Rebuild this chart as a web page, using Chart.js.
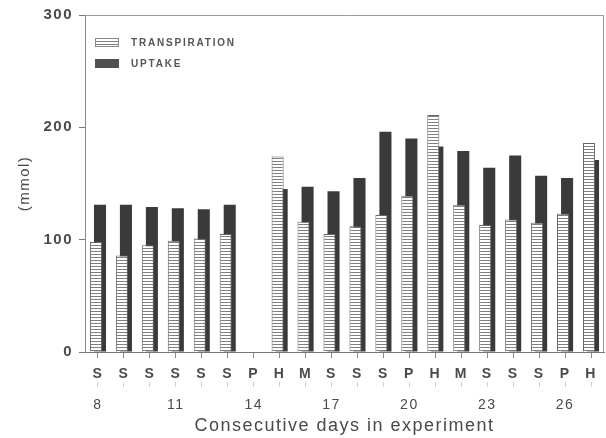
<!DOCTYPE html>
<html>
<head>
<meta charset="utf-8">
<script src="https://cdn.jsdelivr.net/npm/chart.js@4"></script>
<style>
  html, body { margin: 0; padding: 0; background: #fff; }
  #wrap { width: 606px; height: 438px; }
</style>
</head>
<body>
<div id="wrap"><canvas id="waterChart" width="606" height="438"></canvas></div>
<script>
// values
const dayTypes = ["S", "S", "S", "S", "S", "S", "P", "H", "M", "S", "S", "S", "P", "H", "M", "S", "S", "S", "P", "H"];
const dayLabels = ["8", "", "", "11", "", "", "14", "", "", "17", "", "", "20", "", "", "23", "", "", "26", ""];
const transpiration = [98, 86, 95, 99, 101, 105, null, 174, 116, 105, 112, 122, 139, 211, 131, 113, 118, 115, 123, 186];
const uptake = [131, 131, 129, 128, 127, 131, null, 145, 147, 143, 155, 196, 190, 183, 179, 164, 175, 157, 155, 171];
const yTicks = [0, 100, 200, 300];

const FONT = "'Liberation Sans', Arial, sans-serif";
const TEXT = "#4a4a4a";

// horizontal hatching for transpiration
function hatch() {
  const c = document.createElement("canvas");
  c.width = 4; c.height = 3;
  const g = c.getContext("2d");
  g.fillStyle = "#fff";
  g.fillRect(0, 0, 4, 3);
  g.fillStyle = "#808080";
  g.fillRect(0, 2, 4, 1);
  return g.createPattern(c, "repeat");
}

const ctx = document.getElementById("waterChart").getContext("2d");
const hatchFill = hatch();

const frameAndLegend = {
  id: "frameAndLegend",
  beforeDraw(chart) {
    chart.ctx.letterSpacing = "1.5px";
  },
  afterDraw(chart) {
    const { ctx, chartArea: a } = chart;
    ctx.save();
    // top and right frame
    ctx.strokeStyle = "#9a9a9a";
    ctx.lineWidth = 1;
    ctx.beginPath();
    ctx.moveTo(a.left, a.top + 0.5);
    ctx.lineTo(a.right - 0.5, a.top + 0.5);
    ctx.lineTo(a.right - 0.5, a.bottom);
    ctx.stroke();

    // legend
    const bx = a.left + 10, bw = 24, bh = 9;
    const rows = [
      { label: "TRANSPIRATION", fill: hatchFill, y: 38 },
      { label: "UPTAKE", fill: "#505050", y: 59 }
    ];
    ctx.letterSpacing = "1.8px";
    ctx.font = "bold 10px " + FONT;
    ctx.textBaseline = "middle";
    ctx.textAlign = "left";
    rows.forEach(r => {
      ctx.fillStyle = r.fill;
      ctx.fillRect(bx, r.y, bw, bh);
      if (r.fill === hatchFill) {
        ctx.strokeStyle = "#888";
        ctx.strokeRect(bx + 0.5, r.y + 0.5, bw - 1, bh - 1);
      }
      ctx.fillStyle = "#555";
      ctx.fillText(r.label, bx + 36, r.y + bh / 2 + 0.5);
    });
    ctx.restore();
  }
};

new Chart(ctx, {
  type: "bar",
  data: {
    labels: dayTypes,
    datasets: [
      {
        label: "TRANSPIRATION",
        data: transpiration,
        backgroundColor: hatchFill,
        borderColor: "#666",
        borderWidth: 1,
        borderSkipped: "bottom",
        categoryPercentage: 0.31,
        barPercentage: 3
      },
      {
        label: "UPTAKE",
        data: uptake,
        backgroundColor: "#3a3a3a",
        borderWidth: 0,
        categoryPercentage: 0.31,
        barPercentage: 3
      }
    ]
  },
  options: {
    responsive: false,
    animation: false,
    layout: { padding: { top: 12, right: 2, bottom: 0, left: 0 } },
    plugins: {
      legend: { display: false },
      tooltip: { enabled: false }
    },
    scales: {
      x: {
        position: "bottom",
        offset: true,
        grid: { offset: false, drawOnChartArea: false, tickLength: 6, color: "#888" },
        border: { color: "#777" },
        ticks: {
          autoSkip: false, maxRotation: 0, padding: 8,
          color: TEXT, font: { family: FONT, size: 14, weight: "bold" }
        },
        afterFit(s) { s.height = 30; }
      },
      x2: {
        type: "category",
        position: "bottom",
        labels: dayLabels,
        offset: true,
        grid: { offset: false, drawOnChartArea: false, tickLength: 5, color: "#d0d0d0" },
        border: { display: false },
        ticks: {
          autoSkip: false, maxRotation: 0, padding: 10,
          color: TEXT, font: { family: FONT, size: 14 }
        },
        title: {
          display: true,
          text: "Consecutive days in experiment",
          color: TEXT,
          font: { family: FONT, size: 18 },
          padding: { top: 0, bottom: 1 }
        },
        afterFit(s) { s.height = 56; }
      },
      y: {
        min: 0,
        max: 300,
        afterBuildTicks(s) { s.ticks = yTicks.map(v => ({ value: v })); },
        grid: { drawOnChartArea: false, tickLength: 6, color: "#777" },
        border: { color: "#888" },
        ticks: {
          padding: 6, color: TEXT,
          font: { family: FONT, size: 15, weight: "bold" }
        },
        title: {
          display: true,
          text: "(mmol)",
          color: TEXT,
          font: { family: FONT, size: 15 },
          padding: { top: 16, bottom: 0 }
        },
        afterFit(s) { s.width = 85; }
      }
    }
  },
  plugins: [frameAndLegend]
});
</script>
</body>
</html>
